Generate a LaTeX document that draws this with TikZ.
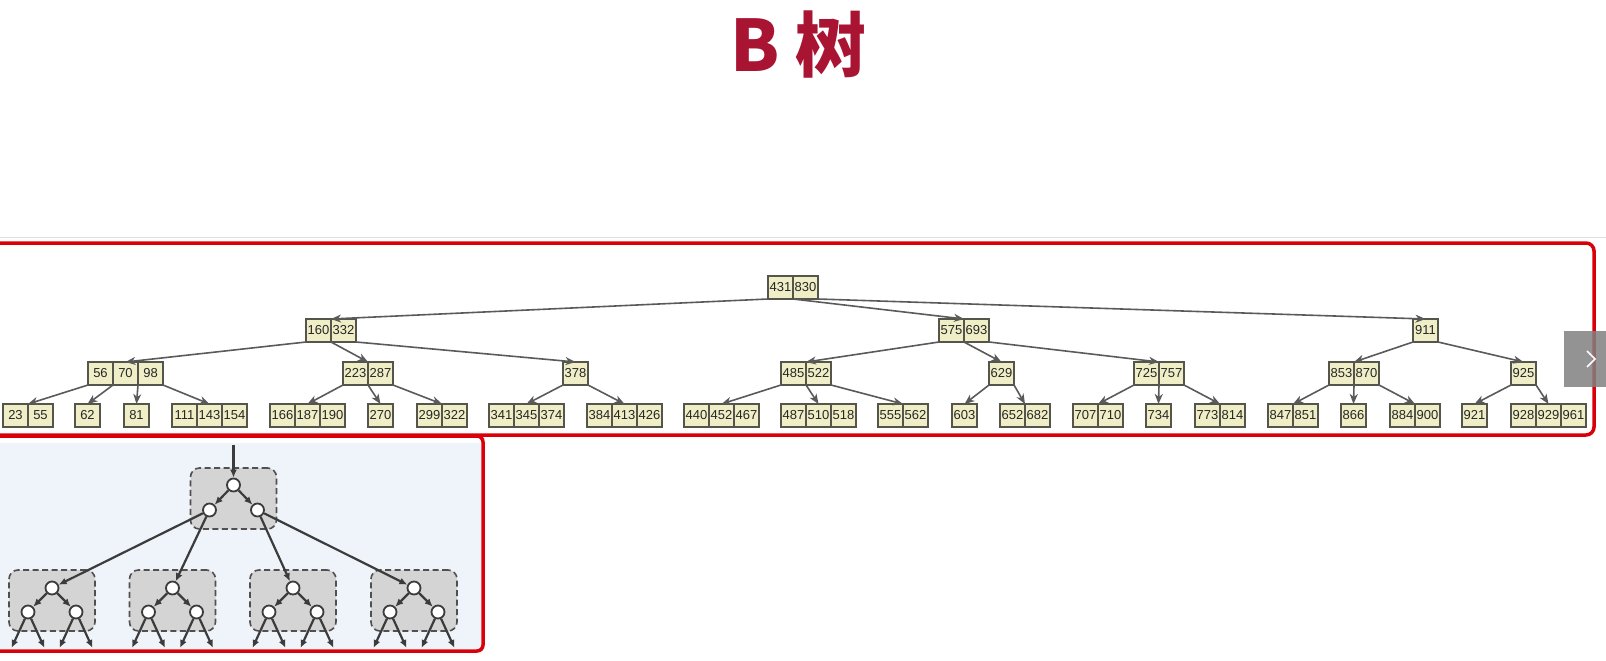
\documentclass[tikz,border=0pt]{standalone}
\usepackage{fontspec}
\setmainfont{Liberation Sans}
\newfontfamily\cjk{Noto Sans CJK SC}
\usetikzlibrary{positioning,arrows.meta}
\definecolor{TitleRed}{RGB}{168,20,50}
\definecolor{FrameRed}{RGB}{218,0,10}
\definecolor{KeyFill}{RGB}{240,238,198}
\definecolor{KeyLine}{RGB}{85,85,75}
\definecolor{EdgeGray}{RGB}{90,90,90}
\definecolor{PanelBlue}{RGB}{239,243,250}
\definecolor{GroupGray}{RGB}{212,212,212}
\definecolor{DarkLine}{RGB}{60,60,60}

\begin{document}
\begin{tikzpicture}[x=1pt,y=-1pt,
key/.style={rectangle,draw=KeyLine,fill=KeyFill,line width=1.4pt,minimum width=25pt,
minimum height=23pt,inner sep=0pt,outer sep=0pt,font=\fontsize{13}{13}\selectfont,text=black!85},
first/.style={key,anchor=north west},
ptr/.style={-{Stealth[length=10pt,width=8pt,inset=3pt]},draw=EdgeGray,line width=1.6pt},
grp/.style={rectangle,rounded corners=9pt,draw=DarkLine!90,dash pattern=on 6pt off 3.5pt,
fill=GroupGray,line width=1.6pt,minimum width=86pt,minimum height=61pt},
dot/.style={circle,draw=DarkLine,fill=white,line width=1.8pt,minimum size=13pt,inner sep=0pt},
link/.style={-{Latex[length=8pt,width=7pt]},draw=DarkLine,line width=2.2pt}
]
\useasboundingbox (0,0) rectangle (1606,661);
\node[anchor=base west,inner sep=0pt,text=TitleRed,font=\cjk\bfseries\fontsize{71}{71}\selectfont] (title) at (730,71) {B 树};
\draw[black!12,line width=0.8pt] (0,237) -- (1606,237);
\fill[PanelBlue] (0,443) rectangle (481,649);
\draw[FrameRed,line width=3.5pt,rounded corners=8pt] (-10,243) rectangle (1594,435);
\draw[FrameRed,line width=3.5pt,rounded corners=6pt] (-10,436) rectangle (483,651);

% B-tree keys
\node[first] (k431) at (768,276) {431}; \node[key,right=0pt of k431] (k830) {830};

\node[first] (k160) at (306,319) {160}; \node[key,right=0pt of k160] (k332) {332};
\node[first] (k575) at (939,319) {575}; \node[key,right=0pt of k575] (k693) {693};
\node[first] (k911) at (1413,319) {911};

\node[first] (k56) at (88,362) {56}; \node[key,right=0pt of k56] (k70) {70}; \node[key,right=0pt of k70] (k98) {98};
\node[first] (k223) at (343,362) {223}; \node[key,right=0pt of k223] (k287) {287};
\node[first] (k378) at (563,362) {378};
\node[first] (k485) at (781,362) {485}; \node[key,right=0pt of k485] (k522) {522};
\node[first] (k629) at (989,362) {629};
\node[first] (k725) at (1134,362) {725}; \node[key,right=0pt of k725] (k757) {757};
\node[first] (k853) at (1329,362) {853}; \node[key,right=0pt of k853] (k870) {870};
\node[first] (k925) at (1511,362) {925};

\node[first] (k23) at (3,404) {23}; \node[key,right=0pt of k23] (k55) {55};
\node[first] (k62) at (75,404) {62};
\node[first] (k81) at (124,404) {81};
\node[first] (k111) at (172,404) {111}; \node[key,right=0pt of k111] (k143) {143}; \node[key,right=0pt of k143] (k154) {154};
\node[first] (k166) at (270,404) {166}; \node[key,right=0pt of k166] (k187) {187}; \node[key,right=0pt of k187] (k190) {190};
\node[first] (k270) at (368,404) {270};
\node[first] (k299) at (417,404) {299}; \node[key,right=0pt of k299] (k322) {322};
\node[first] (k341) at (489,404) {341}; \node[key,right=0pt of k341] (k345) {345}; \node[key,right=0pt of k345] (k374) {374};
\node[first] (k384) at (587,404) {384}; \node[key,right=0pt of k384] (k413) {413}; \node[key,right=0pt of k413] (k426) {426};
\node[first] (k440) at (684,404) {440}; \node[key,right=0pt of k440] (k452) {452}; \node[key,right=0pt of k452] (k467) {467};
\node[first] (k487) at (781,404) {487}; \node[key,right=0pt of k487] (k510) {510}; \node[key,right=0pt of k510] (k518) {518};
\node[first] (k555) at (878,404) {555}; \node[key,right=0pt of k555] (k562) {562};
\node[first] (k603) at (952,404) {603};
\node[first] (k652) at (1000,404) {652}; \node[key,right=0pt of k652] (k682) {682};
\node[first] (k707) at (1073,404) {707}; \node[key,right=0pt of k707] (k710) {710};
\node[first] (k734) at (1146,404) {734};
\node[first] (k773) at (1195,404) {773}; \node[key,right=0pt of k773] (k814) {814};
\node[first] (k847) at (1268,404) {847}; \node[key,right=0pt of k847] (k851) {851};
\node[first] (k866) at (1341,404) {866};
\node[first] (k884) at (1390,404) {884}; \node[key,right=0pt of k884] (k900) {900};
\node[first] (k921) at (1462,404) {921};
\node[first] (k928) at (1511,404) {928}; \node[key,right=0pt of k928] (k929) {929}; \node[key,right=0pt of k929] (k961) {961};

% pointers
\draw[ptr] (k431.south west) -- (k160.north east); \draw[ptr] (k431.south east) -- (k575.north east);
\draw[ptr] (k830.south east) -- (k911.north);
\draw[ptr] (k160.south west) -- (k70.north); \draw[ptr] (k160.south east) -- (k223.north east);
\draw[ptr] (k332.south east) -- (k378.north);
\draw[ptr] (k575.south west) -- (k485.north east); \draw[ptr] (k575.south east) -- (k629.north);
\draw[ptr] (k693.south east) -- (k725.north east);
\draw[ptr] (k911.south west) -- (k853.north east); \draw[ptr] (k911.south east) -- (k925.north);
\draw[ptr] (k56.south west) -- (k23.north east); \draw[ptr] (k56.south east) -- (k62.north);
\draw[ptr] (k70.south east) -- (k81.north); \draw[ptr] (k98.south east) -- (k143.north);
\draw[ptr] (k223.south west) -- (k187.north); \draw[ptr] (k223.south east) -- (k270.north);
\draw[ptr] (k287.south east) -- (k299.north east);
\draw[ptr] (k378.south west) -- (k345.north); \draw[ptr] (k378.south east) -- (k413.north);
\draw[ptr] (k485.south west) -- (k452.north); \draw[ptr] (k485.south east) -- (k510.north);
\draw[ptr] (k522.south east) -- (k555.north east);
\draw[ptr] (k629.south west) -- (k603.north); \draw[ptr] (k629.south east) -- (k652.north east);
\draw[ptr] (k725.south west) -- (k707.north east); \draw[ptr] (k725.south east) -- (k734.north);
\draw[ptr] (k757.south east) -- (k773.north east);
\draw[ptr] (k853.south west) -- (k847.north east); \draw[ptr] (k853.south east) -- (k866.north);
\draw[ptr] (k870.south east) -- (k884.north east);
\draw[ptr] (k925.south west) -- (k921.north); \draw[ptr] (k925.south east) -- (k929.north);

% slide button
\fill[black!50,opacity=0.85] (1564,331) rectangle (1606,387);
\draw[white,line width=1.5pt] (1587,351) -- (1595,359) -- (1587,367);

% grouped binary tree
\node[grp] (top) at (233.5,498.5) {};
\node[dot] (t0) at (233.5,485) {};
\node[dot] (t1) at (209.5,510) {};
\node[dot] (t2) at (257.5,510) {};
\coordinate (in) at (233.5,445);
\draw[link] (in) -- (t0);
\draw[link] (t0) -- (t1); \draw[link] (t0) -- (t2);
\foreach \i/\x in {1/52,2/172.5,3/293,4/414}{
  \node[grp] (g\i) at (\x,600.5) {};
  \node[dot] (r\i) at (\x,588) {};
  \node[dot] (a\i) at (\x-24,612) {};
  \node[dot] (b\i) at (\x+24,612) {};
  \draw[link] (r\i) -- (a\i); \draw[link] (r\i) -- (b\i);
  \coordinate (al\i) at (\x-40.5,648); \coordinate (ar\i) at (\x-7.5,648);
  \coordinate (bl\i) at (\x+7.5,648); \coordinate (br\i) at (\x+40.5,648);
  \draw[link] (a\i) -- (al\i); \draw[link] (a\i) -- (ar\i);
  \draw[link] (b\i) -- (bl\i); \draw[link] (b\i) -- (br\i);
}
\draw[link] (t1) -- (r1); \draw[link] (t1) -- (r2);
\draw[link] (t2) -- (r3); \draw[link] (t2) -- (r4);
\end{tikzpicture}
\end{document}
